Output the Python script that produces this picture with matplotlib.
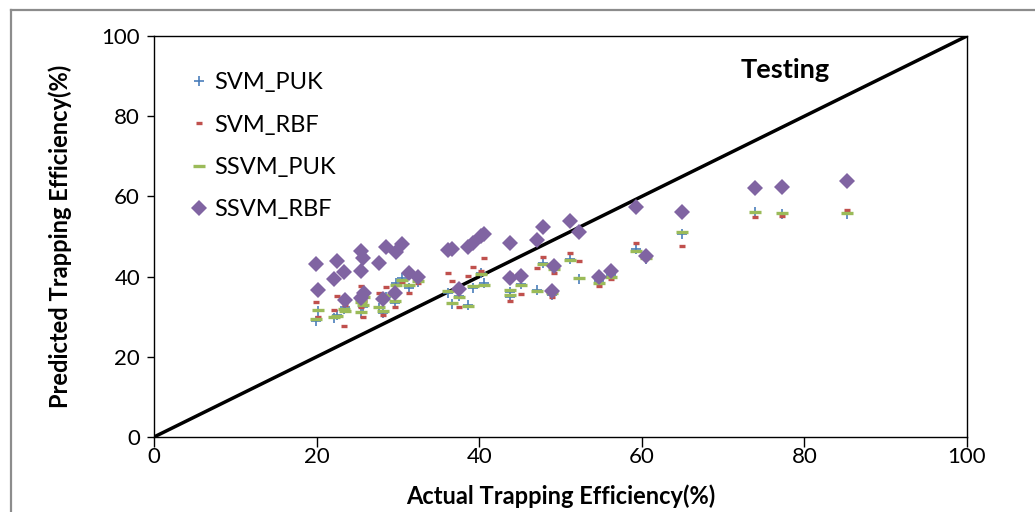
import matplotlib
matplotlib.use("Agg")
import matplotlib.pyplot as plt
from matplotlib.lines import Line2D

plt.rcParams["font.family"] = ["Lato", "DejaVu Sans"]

# actual trapping efficiency (%) of the testing samples
actual = [19.9, 20.2, 22.1, 22.5, 23.4, 23.5, 25.4, 25.5, 25.5, 25.7, 25.8,
          27.7, 28.2, 28.5, 29.6, 29.8, 30.5, 31.4, 32.5, 36.2, 36.6, 37.5,
          38.6, 39.2, 40.2, 40.6, 43.8, 43.8, 45.2, 47.1, 47.8, 49.0, 49.2,
          51.2, 52.3, 54.7, 56.2, 59.3, 60.5, 64.9, 73.9, 77.3, 85.2]

# predicted values per model
svm_puk = [29.0, 31.5, 29.6, 30.5, 31.8, 32.5, 34.0, 31.0, 34.8, 32.5, 35.5,
           32.2, 31.0, 35.0, 33.5, 38.4, 39.6, 37.2, 38.6, 36.0, 33.2, 35.2,
           33.0, 37.2, 40.9, 38.3, 36.2, 35.0, 38.2, 36.7, 43.5, 35.4, 42.2,
           44.5, 39.4, 38.8, 40.3, 46.9, 44.3, 50.6, 56.1, 55.6, 55.6]
svm_rbf = [33.7, 29.8, 31.7, 35.2, 27.8, 33.0, 35.0, 37.7, 32.5, 29.8, 34.0,
           36.0, 30.4, 37.3, 32.5, 37.9, 38.7, 35.8, 38.3, 40.8, 38.9, 32.5,
           40.1, 42.5, 41.5, 44.6, 40.6, 33.8, 35.7, 42.2, 44.8, 34.8, 41.0,
           45.9, 43.9, 37.7, 39.4, 48.3, 45.0, 47.6, 54.9, 55.1, 56.5]
ssvm_puk = [29.3, 31.7, 30.0, 30.2, 32.0, 31.5, 33.7, 31.2, 34.5, 33.0, 35.0,
            32.5, 31.4, 35.5, 34.0, 38.0, 39.2, 37.8, 39.0, 36.4, 33.5, 34.8,
            32.7, 37.6, 40.6, 37.9, 36.7, 35.4, 37.9, 36.5, 43.1, 35.8, 41.8,
            44.1, 39.6, 38.5, 40.0, 46.5, 44.6, 51.0, 56.0, 55.8, 55.9]
ssvm_rbf = [43.1, 36.7, 39.3, 44.0, 41.1, 34.2, 46.3, 41.5, 34.7, 44.6, 35.8,
            43.5, 34.4, 47.3, 35.8, 46.2, 48.1, 41.0, 40.0, 46.6, 47.0, 36.8,
            47.3, 48.3, 50.0, 50.6, 48.3, 39.6, 40.1, 49.1, 52.4, 36.5, 42.7,
            53.9, 51.2, 40.0, 41.5, 57.3, 45.2, 56.0, 62.0, 62.4, 63.8]

ticks = [0, 20, 40, 60, 80, 100]

fig = plt.figure(figsize=(10.35, 5.12), dpi=100)
ax = fig.add_axes([0.1488, 0.1465, 0.7855, 0.7832])

ax.plot([0, 100], [0, 100], color="black", lw=2.5, zorder=1)
ax.plot(actual, svm_puk, ls="none", marker="+", ms=7, mew=1.2,
        color="#4a7ebb", label="SVM_PUK", zorder=2)
ax.plot(actual, svm_rbf, ls="none", marker="_", ms=5, mew=2.4,
        color="#c0504d", label="SVM_RBF", zorder=3)
ax.plot(actual, ssvm_puk, ls="none", marker="_", ms=9, mew=2.4,
        color="#9bbb59", label="SSVM_PUK", zorder=4)
ax.plot(actual, ssvm_rbf, ls="none", marker="D", ms=8.5, mew=0,
        color="#8064a2", label="SSVM_RBF", zorder=5)

ax.set_xlim(0, 100)
ax.set_ylim(0, 100)
ax.set_xticks(ticks)
ax.set_yticks(ticks)
ax.tick_params(axis="x", direction="out", length=7, width=1, pad=0, labelsize=16)
ax.tick_params(axis="y", direction="out", length=5, width=1, pad=5, labelsize=16)
for side in ax.spines.values():
    side.set_linewidth(1)

ax.set_xlabel("Actual Trapping Efficiency(%)", fontsize=17,
              fontweight="bold", labelpad=13)
ax.set_ylabel("Predicted Trapping Efficiency(%)", fontsize=17,
              fontweight="bold", labelpad=21)
ax.text(0.776, 0.915, "Testing", transform=ax.transAxes, fontsize=19.5,
        fontweight="bold", ha="center", va="center")

ax.legend(loc="upper left", bbox_to_anchor=(0.018, 0.962), frameon=False,
          fontsize=17, labelspacing=0.9, handlelength=0.8, handletextpad=0.25)

# grey outer border of the chart
fig.add_artist(Line2D([11 / 1035, 11 / 1035], [-0.1, 1 - 10 / 512],
                      color="#8c8c8c", lw=1.6))
fig.add_artist(Line2D([11 / 1035, 1.1], [1 - 10 / 512, 1 - 10 / 512],
                      color="#8c8c8c", lw=1.6))

fig.savefig("out.png", dpi=100)
